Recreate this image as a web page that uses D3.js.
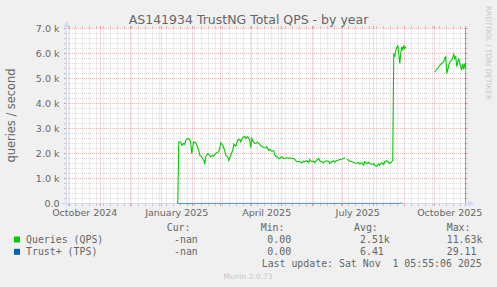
<!DOCTYPE html>
<html><head><meta charset="utf-8">
<script src="https://cdn.jsdelivr.net/npm/d3@7"></script>
<style>
html,body{margin:0;padding:0;background:#F0F0F0;}
svg{display:block;}
text{font-family:"DejaVu Sans";fill:#666666;}
.mono{font-family:"DejaVu Sans Mono";white-space:pre;}
</style></head><body>
<svg id="c" width="497" height="287"></svg>
<script>
// ---------- data ----------
const chartTitle = "AS141934 TrustNG Total QPS - by year";
const yAxisTitle = "queries / second";
const yTickValues = [0, 1000, 2000, 3000, 4000, 5000, 6000, 7000];
const yTickLabels = ["0.0", "1.0 k", "2.0 k", "3.0 k", "4.0 k", "5.0 k", "6.0 k", "7.0 k"];
const xLabelDates = ["2024-10-01", "2025-01-01", "2025-04-01", "2025-07-01", "2025-10-01"];
const xLabelTexts = ["October 2024", "January 2025", "April 2025", "July 2025", "October 2025"];
const endTime = "2025-11-01T05:55:06Z";
const spanDays = 400;

const qpsDates = [
 "2025-01-17","2025-01-18","2025-01-20","2025-01-21","2025-01-23","2025-01-24","2025-01-25","2025-01-27","2025-01-29","2025-01-30","2025-01-31",
 "2025-02-01","2025-02-02","2025-02-04","2025-02-05","2025-02-07","2025-02-08","2025-02-10","2025-02-12","2025-02-13","2025-02-14","2025-02-16","2025-02-17","2025-02-19","2025-02-21","2025-02-22","2025-02-24","2025-02-27","2025-02-28",
 "2025-03-01","2025-03-03","2025-03-05","2025-03-06","2025-03-08","2025-03-09","2025-03-11","2025-03-13","2025-03-14","2025-03-16","2025-03-18","2025-03-20","2025-03-21","2025-03-23","2025-03-25","2025-03-26","2025-03-28","2025-03-30","2025-03-31",
 "2025-04-01","2025-04-03","2025-04-05","2025-04-07","2025-04-09","2025-04-10","2025-04-13","2025-04-15","2025-04-16","2025-04-18","2025-04-19","2025-04-21","2025-04-23","2025-04-24","2025-04-26","2025-04-28","2025-04-29",
 "2025-05-01","2025-05-03","2025-05-04","2025-05-06","2025-05-08","2025-05-09","2025-05-11","2025-05-13","2025-05-14","2025-05-16","2025-05-18","2025-05-19","2025-05-21","2025-05-23","2025-05-24","2025-05-26","2025-05-28","2025-05-29","2025-05-31",
 "2025-06-02","2025-06-03","2025-06-05","2025-06-07","2025-06-08","2025-06-10","2025-06-12","2025-06-13","2025-06-15","2025-06-17","2025-06-18","2025-06-20","2025-06-22","2025-06-23","2025-06-25","2025-06-27","2025-06-28","2025-06-30",
 "2025-07-02","2025-07-03","2025-07-04","2025-07-05","2025-07-07","2025-07-08","2025-07-10","2025-07-12","2025-07-13","2025-07-15","2025-07-17","2025-07-18","2025-07-20","2025-07-22","2025-07-23","2025-07-25","2025-07-27","2025-07-28","2025-07-30",
 "2025-08-01","2025-08-02","2025-08-04","2025-08-06","2025-08-07","2025-08-09","2025-08-11","2025-08-12","2025-08-14","2025-08-16","2025-08-17","2025-08-19","2025-08-20","2025-08-21","2025-08-22","2025-08-23","2025-08-25","2025-08-26","2025-08-27","2025-08-28","2025-08-29","2025-08-30","2025-08-31",
 "2025-09-01","2025-09-02","2025-09-03","2025-09-30",
 "2025-10-01","2025-10-03","2025-10-05","2025-10-06","2025-10-08","2025-10-10","2025-10-11","2025-10-12","2025-10-13","2025-10-15","2025-10-16","2025-10-18","2025-10-20","2025-10-21","2025-10-22","2025-10-23","2025-10-24","2025-10-25","2025-10-26","2025-10-27","2025-10-28","2025-10-29","2025-10-30","2025-10-31","2025-11-01"
];
const qpsValues = [
 0,2460,2460,2330,2400,2370,2530,2600,2560,2400,1990,
 2270,2470,2430,2330,2130,1930,1870,1730,1570,1870,2000,1970,1870,1930,1900,2000,2070,2200,
 2430,2330,2110,1930,1870,1730,1930,2130,2370,2290,2530,2570,2470,2640,2690,2600,2670,2530,2240,
 2600,2430,2400,2450,2370,2310,2240,2230,2270,2130,2170,2090,2110,1930,1870,1800,1800,
 1870,1800,1800,1830,1800,1830,1800,1800,1760,1670,1690,1670,1630,1690,1670,1710,1640,1760,1670,
 1690,1630,1730,1800,1710,1670,1630,1680,1710,1680,1600,1670,1710,1650,1730,1730,1760,1770,
 1800,1840,null,1760,1730,1690,1670,1640,1630,1600,1640,1570,1630,1530,1670,1600,1640,1600,1560,
 1600,1530,1490,1600,1530,1630,1560,1670,1710,1630,1600,1670,1730,6000,5870,6130,6330,6000,5600,6000,6270,6130,6330,
 6200,6270,null,null,
 5270,5360,5470,5530,5600,5670,5800,5870,5200,5530,5670,5730,5970,5800,5870,5470,5670,5800,5600,5470,5360,5600,5360,5600,5440
];
const tpsDates = ["2025-01-17","2025-02-15","2025-03-15","2025-04-15","2025-05-15","2025-06-15","2025-07-15","2025-08-15","2025-08-26","2025-08-27","2025-08-28","2025-08-29","2025-08-30"];
const tpsValues = [0, 5, 6, 7, 6, 5, 6, 6, 4, 12, 29, 22, 6];

const legendNames = ["Queries (QPS)", "Trust+ (TPS)"];
const legendColors = ["#00CC00", "#0066B3"];
const legendCur = ["-nan", "-nan"];
const legendMin = ["0.00", "0.00"];
const legendAvg = ["2.51k", "6.41"];
const legendMax = ["11.63k", "29.11"];
const legendHeaders = ["Cur:", "Min:", "Avg:", "Max:"];
const lastUpdate = "Last update: Sat Nov  1 05:55:06 2025";
const watermark = "Munin 2.0.73";
const sideText = "RRDTOOL / TOBI OETIKER";

// ---------- drawing ----------
const svg = d3.select("#c");
const X0 = 66, X1 = 466, Y0 = 203.5, Y1 = 28.5;
const end = new Date(endTime);
const start = new Date(end.getTime() - spanDays * 864e5);
const x = d3.scaleUtc().domain([start, end]).range([X0, X1]);
const y = d3.scaleLinear().domain([0, 7000]).range([Y0, Y1]);
const px = d => Math.floor(x(d)) + 0.5;

svg.append("rect").attr("x", X0).attr("y", 28).attr("width", X1 - X0).attr("height", 176).attr("fill", "#FFFFFF");

const gridCol = "rgba(143,143,143,0.32)";
const mgridCol = "rgba(222,79,79,0.42)";
const g = svg.append("g");

// horizontal grid
const minorY = d3.range(0, 7001, 200).filter(v => v % 1000 !== 0);
function hline(v, col) {
  const yy = y(v);
  g.append("line").attr("x1", X0 - 2).attr("x2", X1 + 2).attr("y1", yy).attr("y2", yy)
    .attr("stroke", col).attr("stroke-dasharray", "1,1");
  g.append("line").attr("x1", X0 - 2).attr("x2", X0).attr("y1", yy).attr("y2", yy).attr("stroke", col);
  g.append("line").attr("x1", X1).attr("x2", X1 + 2).attr("y1", yy).attr("y2", yy).attr("stroke", col);
}
minorY.forEach(v => hline(v, gridCol));
yTickValues.forEach(v => hline(v, mgridCol));

// vertical grid
const months = d3.utcMonth.range(d3.utcMonth.ceil(start), end);
const monthKeys = new Set(months.map(d => +d));
const weeks = d3.utcMonday.range(start, end).filter(d => !monthKeys.has(+d));
function vline(d, col) {
  const xx = px(d);
  g.append("line").attr("x1", xx).attr("x2", xx).attr("y1", Y1 - 2).attr("y2", Y0 + 2)
    .attr("stroke", col).attr("stroke-dasharray", "1,1");
  g.append("line").attr("x1", xx).attr("x2", xx).attr("y1", Y0).attr("y2", Y0 + 2.5).attr("stroke", col);
  g.append("line").attr("x1", xx).attr("x2", xx).attr("y1", Y1 - 2.5).attr("y2", Y1).attr("stroke", col);
}
weeks.forEach(d => vline(d, gridCol));
months.forEach(d => vline(d, mgridCol));

// right frame line
svg.append("line").attr("x1", 465.5).attr("x2", 465.5).attr("y1", 28).attr("y2", 204).attr("stroke", "#a0a0a0");

// data
const parse = d3.utcParse("%Y-%m-%d");
const qps = qpsDates.map((d, i) => ({ t: parse(d), v: qpsValues[i] }));
const tps = tpsDates.map((d, i) => ({ t: parse(d), v: tpsValues[i] }));
const line = d3.line().defined(d => d.v !== null).x(d => x(d.t)).y(d => y(d.v));

// axes
svg.append("line").attr("x1", 62).attr("x2", 469).attr("y1", Y0).attr("y2", Y0).attr("stroke", "#CFD6F8");
svg.append("line").attr("x1", 66.5).attr("x2", 66.5).attr("y1", 207).attr("y2", 24).attr("stroke", "#CFD6F8");
svg.append("path").attr("d", "M468,200.5L468,206.5L474,203.5Z").attr("fill", "#CFD6F8");
svg.append("path").attr("d", "M63.5,27L69.5,27L66.5,21Z").attr("fill", "#CFD6F8");

svg.append("path").datum(qps).attr("d", line).attr("fill", "none").attr("stroke", legendColors[0]).attr("stroke-width", 1.1);
svg.append("path").datum(tps).attr("d", line).attr("fill", "none").attr("stroke", legendColors[1]).attr("stroke-width", 1).attr("stroke-opacity", 0.6);

// y tick labels
svg.append("g").selectAll("text").data(yTickValues).join("text")
  .attr("x", 59.5).attr("y", d => y(d)).attr("dy", "0.36em").attr("text-anchor", "end")
  .attr("font-size", "9.5px").text((d, i) => yTickLabels[i]);

// x labels (centered half a month after month start, as rrdtool does)
svg.append("g").selectAll("text").data(xLabelDates).join("text")
  .attr("x", d => x(new Date(parse(d).getTime() + 15 * 864e5)))
  .attr("y", 215.5).attr("text-anchor", "middle").attr("font-size", "9.5px")
  .text((d, i) => xLabelTexts[i]);

// title
svg.append("text").attr("x", 248.5).attr("y", 24).attr("text-anchor", "middle")
  .attr("font-size", "12.5px").text(chartTitle);

// y axis title
svg.append("text").attr("transform", "translate(11,115.5) rotate(-90)")
  .attr("text-anchor", "middle").attr("dy", "0.35em").attr("font-size", "11.4px").text(yAxisTitle);

// side watermark
svg.append("text").attr("transform", "translate(486,6) rotate(90)")
  .attr("font-size", "7.3px").style("fill", "#c8c8c8").text(sideText);

// legend
const lg = svg.append("g").attr("class", "leg");
const colX = [166.7, 260.7, 354, 446.7];
legendHeaders.forEach((h, i) => lg.append("text").attr("class", "mono").attr("x", colX[i]).attr("y", 231).attr("font-size", "9.9px").text(h));
const rowY = [243, 255.3];
legendNames.forEach((n, i) => {
  lg.append("rect").attr("x", 14).attr("y", rowY[i] - 6.5).attr("width", 6).attr("height", 6).attr("fill", legendColors[i]);
  lg.append("text").attr("class", "mono").attr("x", 26).attr("y", rowY[i]).attr("font-size", "9.9px").text(n);
  const vals = [legendCur[i], legendMin[i], legendAvg[i], legendMax[i]];
  const vx = [174, 267.3, 360, 446.7];
  vals.forEach((v, j) => lg.append("text").attr("class", "mono").attr("x", vx[j]).attr("y", rowY[i]).attr("font-size", "9.9px").text(v));
});
lg.append("text").attr("class", "mono").attr("x", 261.7).attr("y", 267.3).attr("font-size", "9.9px").text(lastUpdate);
svg.append("text").attr("x", 248).attr("y", 278.8).attr("text-anchor", "middle").attr("font-size", "7.5px")
  .style("fill", "#c8c8c8").text(watermark);
</script>
</body></html>
